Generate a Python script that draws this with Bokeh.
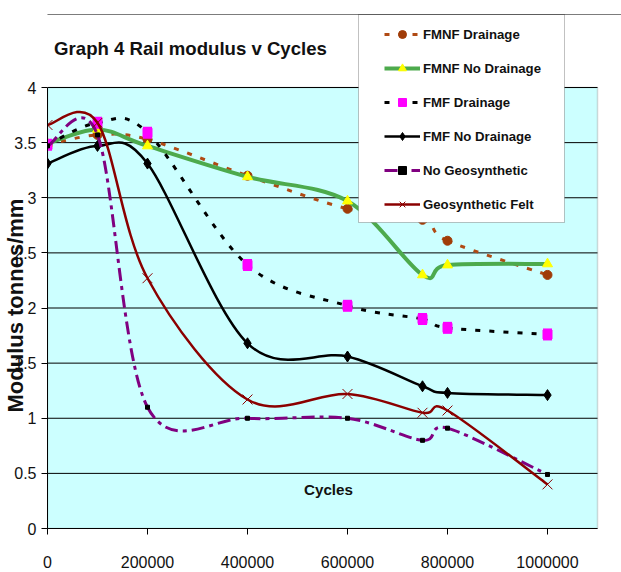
from bokeh.embed import file_html
from bokeh.models import (BoxAnnotation, ColumnDataSource, FixedTicker, Label,
                          Legend, LegendItem, Range1d, Title)
from bokeh.plotting import figure
from bokeh.resources import INLINE

# ---- data -------------------------------------------------------------
cycles = [0, 100000, 200000, 400000, 600000, 750000, 800000, 1000000]

fmnf_drainage = [3.48, 3.57, 3.53, 3.20, 2.90, 2.80, 2.61, 2.30]
fmnf_no_drainage = [3.49, 3.62, 3.47, 3.19, 2.97, 2.30, 2.39, 2.40]
fmf_drainage = [3.48, 3.68, 3.59, 2.39, 2.02, 1.90, 1.82, 1.76]
fmf_no_drainage = [3.31, 3.47, 3.31, 1.68, 1.56, 1.29, 1.23, 1.21]
no_geosynthetic = [3.47, 3.57, 1.10, 1.00, 1.00, 0.80, 0.91, 0.49]
geosynthetic_felt = [3.66, 3.68, 2.27, 1.17, 1.22, 1.05, 1.07, 0.40]

series_labels = ["FMNF Drainage", "FMNF No Drainage", "FMF Drainage",
                 "FMF No Drainage", "No Geosynthetic", "Geosynthetic Felt"]

x_ticks = [0, 200000, 400000, 600000, 800000, 1000000]
x_tick_labels = ["0", "200000", "400000", "600000", "800000", "1000000"]
y_ticks = [0, 0.5, 1, 1.5, 2, 2.5, 3, 3.5, 4]
y_tick_labels = ["0", "0.5", "1", "1.5", "2", "2.5", "3", "3.5", "4"]

title_text = "Graph 4 Rail modulus v Cycles"
x_title = "Cycles"
y_title = "Modulus tonnes/mm"

# ---- layout -----------------------------------------------------------
W, H = 621, 572
PLOT_L, PLOT_R, PLOT_T, PLOT_B = 47, 597, 87, 528   # plotting area in canvas px
X_MAX, Y_MAX = 1100000, 4
X_PER_PX = X_MAX / (PLOT_R - PLOT_L)
Y_PER_PX = Y_MAX / (PLOT_B - PLOT_T)

# the frame runs to the right and top edges of the canvas so that the
# title, legend box and top rule can sit above the plotting area
FRAME_R, FRAME_T = W, 0

FONT = "'Liberation Sans', Arial, sans-serif"


def px_x(px):
    """Canvas x pixel -> data x."""
    return (px - PLOT_L) * X_PER_PX


def px_y(py):
    """Canvas y pixel -> data y."""
    return (PLOT_B - py) * Y_PER_PX


def smooth_segments(xs, ys):
    """Cubic Bezier pieces through the points (Catmull-Rom style smoothing)."""
    n = len(xs)
    seg = {k: [] for k in ("x0", "y0", "x1", "y1", "cx0", "cy0", "cx1", "cy1")}
    for i in range(n - 1):
        a = max(i - 1, 0)
        b = min(i + 2, n - 1)
        seg["x0"].append(xs[i])
        seg["y0"].append(ys[i])
        seg["x1"].append(xs[i + 1])
        seg["y1"].append(ys[i + 1])
        seg["cx0"].append(xs[i] + (xs[i + 1] - xs[a]) / 6)
        seg["cy0"].append(ys[i] + (ys[i + 1] - ys[a]) / 6)
        seg["cx1"].append(xs[i + 1] - (xs[b] - xs[i]) / 6)
        seg["cy1"].append(ys[i + 1] - (ys[b] - ys[i]) / 6)
    return ColumnDataSource(seg)


p = figure(width=W, height=H, title=None, output_backend="svg", toolbar_location=None,
           x_range=Range1d(0, px_x(FRAME_R)), y_range=Range1d(0, px_y(FRAME_T)),
           min_border_left=PLOT_L, min_border_right=W - FRAME_R,
           min_border_top=FRAME_T, min_border_bottom=H - PLOT_B)

p.background_fill_color = "white"
p.border_fill_color = "white"
p.outline_line_color = None
p.xgrid.visible = False
p.ygrid.visible = False

# plotting area: pale cyan with a grey border
p.add_layout(BoxAnnotation(left=0, right=X_MAX, bottom=0, top=Y_MAX, level="image",
                           fill_color="#CCFFFF", fill_alpha=1,
                           line_color="#808080", line_width=1.5))

# horizontal gridlines at each y tick, across the plotting area only
p.segment(x0=[0] * len(y_ticks), x1=[X_MAX] * len(y_ticks), y0=y_ticks, y1=y_ticks,
          line_color="black", line_width=1, level="underlay")

for ax in (p.xaxis[0], p.yaxis[0]):
    ax.axis_line_color = "black"
    ax.major_tick_line_color = "black"
    ax.major_tick_out = 6
    ax.major_tick_in = 0
    ax.minor_tick_line_color = None
    ax.major_label_text_font = FONT
    ax.major_label_text_font_size = "16px"
    ax.major_label_text_color = "#111111"

p.xaxis.bounds = (0, X_MAX)
p.xaxis.ticker = FixedTicker(ticks=x_ticks)
p.xaxis.major_label_overrides = dict(zip(x_ticks, x_tick_labels))
p.xaxis.major_label_standoff = 21

p.yaxis.bounds = (0, Y_MAX)
p.yaxis.ticker = FixedTicker(ticks=y_ticks)
p.yaxis.major_label_overrides = dict(zip(y_ticks, y_tick_labels))
p.yaxis.major_label_standoff = 5

# y title: starts level with the plotting area's lower half and reads upwards
p.add_layout(Title(text=y_title, align="left", offset=116, vertical_align="bottom",
                   standoff=-33, text_font=FONT, text_font_size="22px",
                   text_font_style="bold", text_color="#111111"), "left")

# ---- series -----------------------------------------------------------
styles = [
    dict(line=dict(line_color="#B04A14", line_width=3, line_dash="5 9"),
         mark=dict(marker="circle", size=9, fill_color="#A03C08", line_color="#A03C08")),
    dict(line=dict(line_color="#4DAA4D", line_width=4),
         mark=dict(marker="triangle", size=10, fill_color="#FFFF00", line_color="#FFFF00")),
    dict(line=dict(line_color="black", line_width=3, line_dash="5 9"),
         mark=dict(marker="square", size=9, fill_color="#FF00FF", line_color="#FF00FF")),
    dict(line=dict(line_color="black", line_width=2.5),
         mark=dict(marker="diamond", size=11, fill_color="black", line_color="black")),
    dict(line=dict(line_color="#800080", line_width=3, line_dash="13 5 4 5"),
         mark=dict(marker="square", size=4, fill_color="black", line_color="black")),
    dict(line=dict(line_color="#8B0000", line_width=2.5),
         mark=dict(marker="x", size=14, line_color="#8B0000", line_width=1)),
]
values = [fmnf_drainage, fmnf_no_drainage, fmf_drainage,
          fmf_no_drainage, no_geosynthetic, geosynthetic_felt]

series_renderers = []
for i, (ys, st) in enumerate(zip(values, styles)):
    line_r = p.bezier(x0="x0", y0="y0", x1="x1", y1="y1", cx0="cx0", cy0="cy0",
                      cx1="cx1", cy1="cy1", source=smooth_segments(cycles, ys), **st["line"])
    mark_r = p.scatter(x=cycles, y=ys, **st["mark"])
    if i == 2:
        # FMF Drainage markers are drawn as tall magenta blocks
        p.rect(x=cycles, y=ys, width=9, height=12, width_units="screen",
               height_units="screen", fill_color="#FF00FF", line_color=None)
    series_renderers.append([line_r, mark_r])

# ---- legend -------------------------------------------------------------
p.add_layout(BoxAnnotation(left=px_x(358), right=px_x(564), top=px_y(14), bottom=px_y(222),
                           fill_color="white", fill_alpha=1,
                           line_color="#333333", line_width=1))

items = [LegendItem(label=name, renderers=rs)
         for name, rs in zip(series_labels, series_renderers)]

legend = Legend(items=items, location=(384 - PLOT_L, PLOT_B - 214),
                glyph_width=36, glyph_height=20, label_height=20,
                label_standoff=3, spacing=14, padding=0, margin=0,
                border_line_color=None, background_fill_alpha=0,
                label_text_font=FONT, label_text_font_size="13.2px",
                label_text_font_style="bold", label_text_color="#111111")
p.add_layout(legend)

# chart-area top rule
p.add_layout(BoxAnnotation(left=px_x(7), right=px_x(W), top=px_y(14), bottom=px_y(14),
                           fill_alpha=0, line_color="black", line_width=1))

# ---- titles -------------------------------------------------------------
p.add_layout(Label(x=px_x(190), y=px_y(48), text=title_text, text_align="center",
                   text_baseline="middle", text_font=FONT,
                   text_font_size="18.6px", text_font_style="bold", text_color="#111111"))
p.add_layout(Label(x=px_x(328), y=px_y(489), text=x_title, text_align="center",
                   text_baseline="middle", text_font=FONT,
                   text_font_size="15.2px", text_font_style="bold", text_color="#111111"))

open("out.html", "w").write(file_html(p, INLINE))
